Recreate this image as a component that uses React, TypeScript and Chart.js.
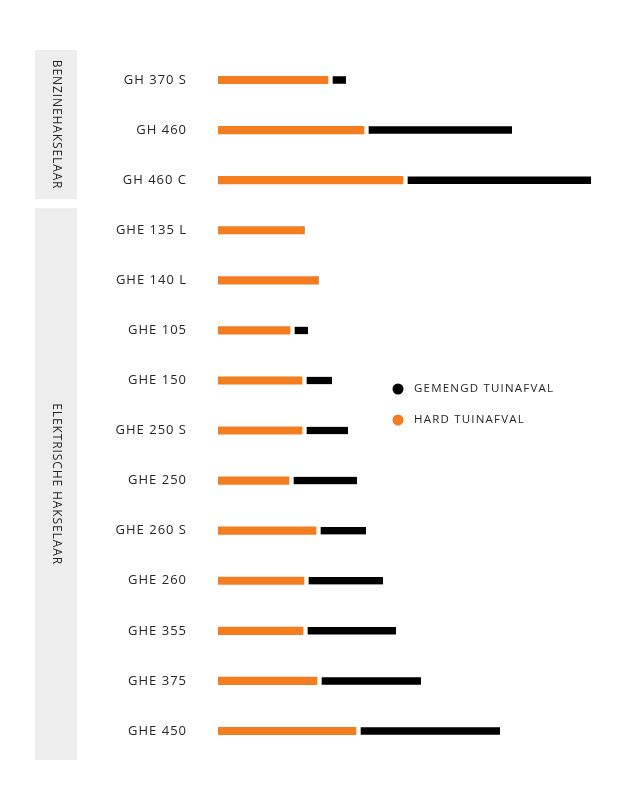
import { useEffect, useRef } from "react"
import { Chart, registerables } from "chart.js"

Chart.register(...registerables)

// machines, top to bottom
const models = [
  "GH 370 S",
  "GH 460",
  "GH 460 C",
  "GHE 135 L",
  "GHE 140 L",
  "GHE 105",
  "GHE 150",
  "GHE 250 S",
  "GHE 250",
  "GHE 260 S",
  "GHE 260",
  "GHE 355",
  "GHE 375",
  "GHE 450",
]
const hardWaste = [110, 146, 185, 86, 100, 72, 84, 84, 71, 98, 86, 85, 99, 138]
const mixedWaste = [18, 148, 188, 0, 0, 18, 30, 46, 68, 50, 79, 93, 104, 144]

const groupNames = ["BENZINEHAKSELAAR", "ELEKTRISCHE HAKSELAAR"]
const groupFirst = [0, 3]
const groupLast = [2, 13]

const ORANGE = "#f47d20"
const TEXT = "#262626"

// grey side panels with the vertical group names
const groupPanels = {
  id: "groupPanels",
  beforeDraw(chart: Chart) {
    const { ctx } = chart
    const y = chart.scales.y
    ctx.save()
    groupNames.forEach((name, i) => {
      const top = y.getPixelForValue(groupFirst[i] - (i === 0 ? 0.6 : 0.44))
      const bottom = y.getPixelForValue(groupLast[i] + (i === 0 ? 0.38 : 0.58))
      ctx.fillStyle = "#ededed"
      ctx.fillRect(35, top, 42, bottom - top)
      ctx.save()
      ctx.translate(56, (top + bottom) / 2)
      ctx.rotate(Math.PI / 2)
      ctx.fillStyle = TEXT
      ctx.font = "12px 'Open Sans'"
      ;(ctx as any).letterSpacing = "0.9px"
      ctx.textAlign = "center"
      ctx.textBaseline = "middle"
      ctx.fillText(name, 0, 0)
      ctx.restore()
    })
    ctx.restore()
  },
}

// legend drawn inside the plot, black series first
const innerLegend = {
  id: "innerLegend",
  afterDraw(chart: Chart) {
    const { ctx } = chart
    const items = [...chart.data.datasets].reverse()
    ctx.save()
    items.forEach((ds, i) => {
      const cy = 389 + i * 31
      ctx.beginPath()
      ctx.arc(398, cy, 5.5, 0, Math.PI * 2)
      ctx.fillStyle = ds.backgroundColor as string
      ctx.fill()
      ctx.fillStyle = TEXT
      ctx.font = "11.5px 'Open Sans'"
      ;(ctx as any).letterSpacing = "1.2px"
      ctx.textAlign = "left"
      ctx.textBaseline = "middle"
      ctx.fillText(ds.label as string, 414, cy)
    })
    ctx.restore()
  },
}

// wider tracking for the category labels (canvas resizes reset ctx state)
const letterSpace = {
  id: "letterSpace",
  beforeUpdate(chart: Chart) {
    ;(chart.ctx as any).letterSpacing = "1px"
  },
  beforeDraw(chart: Chart) {
    ;(chart.ctx as any).letterSpacing = "1px"
  },
}

export default function App() {
  const canvasRef = useRef<HTMLCanvasElement>(null)
  const chartInstance = useRef<Chart | null>(null)

  useEffect(() => {
    if (!canvasRef.current) return
    const ctx = canvasRef.current.getContext("2d")
    if (!ctx) return

    chartInstance.current = new Chart(ctx, {
      type: "bar",
      data: {
        labels: models,
        datasets: [
          {
            label: "HARD TUINAFVAL",
            data: hardWaste,
            backgroundColor: ORANGE,
            borderWidth: 0,
            barThickness: 7.5,
          },
          {
            label: "GEMENGD TUINAFVAL",
            data: mixedWaste,
            backgroundColor: "#000000",
            borderColor: "#ffffff",
            borderWidth: { left: 5, right: 0, top: 0, bottom: 0 },
            borderSkipped: false,
            barThickness: 7.5,
          },
        ],
      },
      options: {
        indexAxis: "y",
        animation: false,
        responsive: false,
        layout: { padding: { top: 55, bottom: 54, left: 0, right: 22 } },
        plugins: {
          legend: { display: false },
          tooltip: { enabled: false },
        },
        scales: {
          x: {
            stacked: true,
            display: false,
            min: 0,
            max: 400,
          },
          y: {
            stacked: true,
            grid: { display: false, drawTicks: false },
            border: { display: false },
            ticks: {
              padding: 31,
              color: TEXT,
              font: { family: "'Open Sans'", size: 13 },
            },
            afterFit(scale) {
              scale.width = 218
            },
          },
        },
      },
      plugins: [letterSpace, groupPanels, innerLegend],
    })

    return () => {
      if (chartInstance.current) {
        chartInstance.current.destroy()
      }
    }
  }, [])

  return (
    <div style={{ position: "fixed", left: 0, top: 0, width: 640, height: 810, background: "#fff" }}>
      <canvas ref={canvasRef} width={640} height={810} />
    </div>
  )
}
